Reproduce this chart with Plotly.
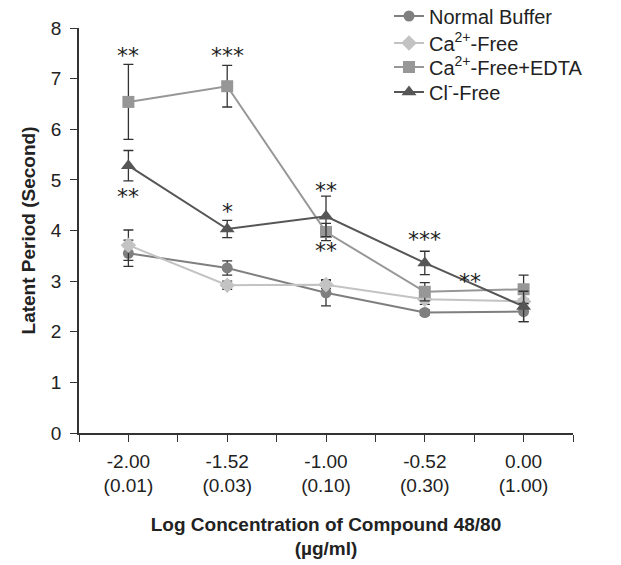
import plotly.graph_objects as go

x_pos = [0, 1, 2, 3, 4]
tick_top = ["-2.00", "-1.52", "-1.00", "-0.52", "0.00"]
tick_bottom = ["(0.01)", "(0.03)", "(0.10)", "(0.30)", "(1.00)"]

normal = [3.55, 3.26, 2.77, 2.38, 2.40]
normal_err = [0.26, 0.14, 0.26, 0.05, 0.20]
ca_free = [3.71, 2.92, 2.93, 2.64, 2.60]
ca_free_err = [0.30, 0.08, 0.08, 0.10, 0.05]
edta = [6.54, 6.85, 3.97, 2.79, 2.84]
edta_err = [0.74, 0.41, 0.17, 0.18, 0.28]
cl_free = [5.28, 4.03, 4.28, 3.36, 2.50]
cl_free_err = [0.30, 0.17, 0.40, 0.23, 0.30]

# significance marks: (x, y, text)
sig_x = [0, 0, 1, 1, 2, 2, 3, 3.46]
sig_y = [7.45, 4.68, 7.45, 4.38, 4.80, 3.60, 3.82, 2.99]
sig_t = ["**", "**", "***", "*", "**", "**", "***", "**"]

series = [
    ("Normal Buffer", normal, normal_err, "circle", "#7f7f7f", 11),
    ("Ca<sup>2+</sup>-Free", ca_free, ca_free_err, "diamond", "#c3c3c3", 12),
    ("Ca<sup>2+</sup>-Free+EDTA", edta, edta_err, "square", "#979797", 12),
    ("Cl<sup>-</sup>-Free", cl_free, cl_free_err, "triangle-up", "#565656", 13),
]
legend_rows_px = [16, 43, 67, 92]

W, H = 621, 565
ML, MB = 79, 132          # left / bottom margins (px)
PLOT_RIGHT, PLOT_TOP = 573, 28
paper_w = W - ML
paper_h = H - MB

fig = go.Figure()
legend_names = ["legend", "legend2", "legend3", "legend4"]
for (name, ys, err, sym, col, size), lg in zip(series, legend_names):
    fig.add_trace(go.Scatter(
        x=x_pos, y=ys, name=name, mode="lines+markers",
        line=dict(color=col, width=2),
        marker=dict(symbol=sym, size=size, color=col),
        error_y=dict(type="data", array=err, visible=True,
                     color="#333333", thickness=1.3, width=5),
        legend=lg,
    ))

for xx, yy, tt in zip(sig_x, sig_y, sig_t):
    fig.add_annotation(x=xx, y=yy, text=tt, showarrow=False,
                       font=dict(size=22, color="#222222", family="DejaVu Sans"),
                       xanchor="center", yanchor="middle")

legend_common = dict(x=(389 - ML) / paper_w, xanchor="left", yanchor="middle",
                     bgcolor="rgba(0,0,0,0)", font=dict(size=20), itemwidth=30)
layout_legends = {}
for lg, py in zip(legend_names, legend_rows_px):
    layout_legends[lg] = dict(legend_common, y=(paper_h - py) / paper_h)

fig.update_layout(
    width=W, height=H,
    margin=dict(l=ML, r=0, t=0, b=MB, autoexpand=False),
    paper_bgcolor="white", plot_bgcolor="white",
    font=dict(family="Liberation Sans, Arial, sans-serif", size=19, color="#222222"),
    showlegend=True,
    **layout_legends,
)

fig.update_xaxes(
    domain=[0, (PLOT_RIGHT - ML) / paper_w],
    range=[-0.5, 4.5], automargin=False,
    tickmode="array", tickvals=x_pos,
    ticktext=[f"{a}<br>{b}" for a, b in zip(tick_top, tick_bottom)],
    ticks="outside", ticklen=7, tickwidth=1.3, tickcolor="#333333",
    ticklabelstandoff=3,
    minor=dict(tickmode="array", tickvals=[-0.5, 0.5, 1.5, 2.5, 3.5, 4.5],
               ticks="outside", ticklen=7, tickwidth=1.3, tickcolor="#333333"),
    showline=True, linecolor="#333333", linewidth=1.5,
    showgrid=False, zeroline=False,
    title=dict(text="<b>Log Concentration of Compound 48/80<br>(µg/ml)</b>",
               font=dict(size=19), standoff=22),
)
fig.update_yaxes(
    domain=[0, (paper_h - PLOT_TOP) / paper_h],
    range=[0, 8], dtick=1, automargin=False,
    ticks="outside", ticklen=7, tickwidth=1.3, tickcolor="#333333",
    ticklabelstandoff=5,
    showline=True, linecolor="#333333", linewidth=1.5,
    showgrid=False, zeroline=False,
    title=dict(text="<b>Latent Period (Second)</b>", font=dict(size=19), standoff=10),
)

fig.write_html("out.html", config={"displayModeBar": False},
               post_script="document.body.style.margin='0';")
